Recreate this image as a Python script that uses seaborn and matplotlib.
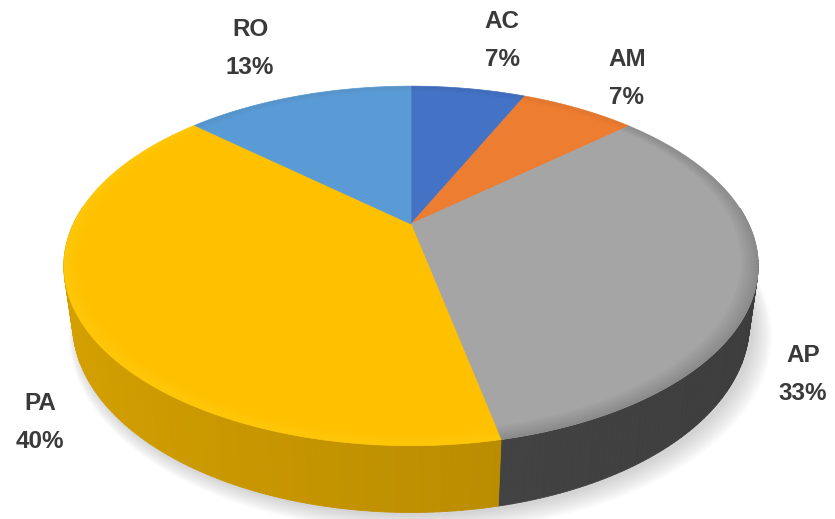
import numpy as np
import matplotlib
matplotlib.use("Agg")
import matplotlib.pyplot as plt
from matplotlib.patches import Polygon
from matplotlib.colors import to_rgb
import seaborn as sns

# ---- data ----
categories = ["AC", "AM", "AP", "PA", "RO"]
shares = [6.7, 6.7, 33.3, 40.0, 13.3]
top_colors = ["#4472C4", "#ED7D31", "#A5A5A5", "#FFC000", "#5B9BD5"]
side_colors = ["#2F528F", "#AE5A21", "#444444", "#BF9000", "#41719C"]

# label layout (pixel positions of two-line labels)
label_xy = [(502, 41), (627, 78), (803, 374), (40, 422), (250, 49)]

sns.set_theme(style="white")
plt.rcParams['font.family'] = ['Liberation Sans', 'DejaVu Sans']

fig = plt.figure(figsize=(8.35, 5.19), dpi=100)
ax = fig.add_axes([0, 0, 1, 1])
ax.set_xlim(0, 835)
ax.set_ylim(519, 0)
ax.axis('off')

# ---- perspective projection of a disc ----
phi = np.deg2rad(29)
s, c = np.sin(phi), np.cos(phi)
D = 3.75
FX, FV = 1266, 1315
CX, CY = 411, 224
H = 0.19


def proj(theta, r=1.0, z=0.0):
    X = r * np.sin(theta)
    Y = r * np.cos(theta)
    depth = Y * c - z * s + D
    u = FX * X / depth
    v = FV * (Y * s + z * c) / depth
    return CX + u, CY - v


def scale(col, k):
    r, g, b = to_rgb(col)
    return (min(r * k, 1), min(g * k, 1), min(b * k, 1))


vals = np.array(shares, dtype=float)
frac = vals / vals.sum()
bounds = np.concatenate([[0], np.cumsum(frac)]) * 2 * np.pi

# ---- soft shadow ----
tt = np.linspace(0, 2 * np.pi, 400)
for k in range(10):
    xs, ys = proj(tt, r=1.0 + 0.004 * k, z=-H)
    ax.add_patch(Polygon(np.column_stack([xs + 4 + 0.6 * k, ys + 3 + 0.6 * k]),
                         closed=True, fc=(0.5, 0.5, 0.5), ec='none', alpha=0.035, zorder=1))

# ---- sides ----
quads = []
for i in range(len(vals)):
    a0, a1 = bounds[i], bounds[i + 1]
    n = max(int(np.degrees(a1 - a0)), 2)
    t = np.linspace(a0, a1, n + 1)
    for j in range(n):
        ta, tb = t[j], t[j + 1]
        tm = 0.5 * (ta + tb)
        if np.cos(tm) > 0.1:
            continue
        xa, ya = proj(ta)
        xb, yb = proj(tb)
        xc, yc = proj(tb, z=-H)
        xd, yd = proj(ta, z=-H)
        light = 1 + 0.12 * (-np.sin(tm))
        col = scale(side_colors[i], light)
        quads.append((np.cos(tm), [(xa, ya), (xb, yb), (xc, yc), (xd, yd)], col))
quads.sort(key=lambda q: -q[0])
for _, pts, col in quads:
    ax.add_patch(Polygon(pts, closed=True, fc=col, ec=col, lw=0.6, zorder=2))

# ---- top faces ----
for i in range(len(vals)):
    t = np.linspace(bounds[i], bounds[i + 1], 200)
    xs, ys = proj(t)
    pts = [(CX, CY)] + list(zip(xs, ys))
    ax.add_patch(Polygon(pts, closed=True, fc=top_colors[i], ec=top_colors[i],
                         lw=0.5, zorder=3))

# ---- bevel-like rim shading on the top face ----
for i in range(len(vals)):
    t = np.linspace(bounds[i], bounds[i + 1], 200)
    for k in range(8):
        r_out = 1.0 - 0.006 * k
        r_in = r_out - 0.006
        xo, yo = proj(t, r=r_out)
        xi, yi = proj(t[::-1], r=r_in)
        w = 0.05 * (8 - k) / 8
        if i == 3:
            col, a = (1.0, 0.9, 0.2), w * 4
        elif i == 2:
            col, a = (0.25, 0.25, 0.25), w * 5
        else:
            col, a = (0, 0, 0), w
        ax.add_patch(Polygon(np.column_stack([np.r_[xo, xi], np.r_[yo, yi]]),
                             closed=True, fc=col, ec='none', alpha=min(a, 1), zorder=4))

# ---- labels ----
for cat, v, (lx, ly) in zip(categories, frac, label_xy):
    ax.text(lx, ly - 19, cat, ha='center', va='center', fontsize=17.5,
            fontweight='bold', color='#3a3a3a', zorder=5)
    ax.text(lx, ly + 19, f"{v * 100:.0f}%", ha='center', va='center', fontsize=17.5,
            fontweight='bold', color='#3a3a3a', zorder=5)

fig.savefig("out.png", dpi=100)
